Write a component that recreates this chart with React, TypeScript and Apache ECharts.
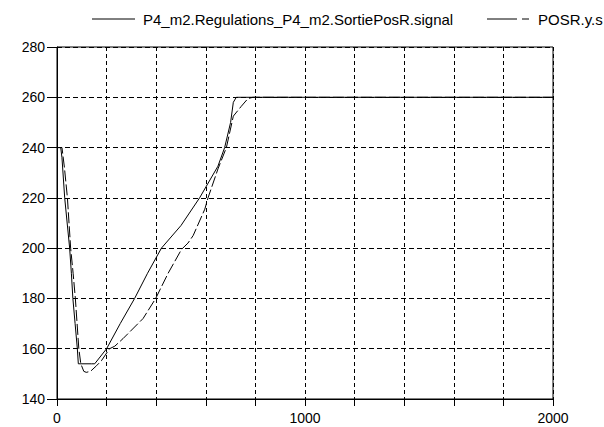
import React, { useEffect, useRef } from "react";
import * as echarts from "echarts";

const signalName = "P4_m2.Regulations_P4_m2.SortiePosR.signal";
const posName = "POSR.y.s";

const signalX = [0, 15, 20, 31, 41, 51, 58, 64, 73, 82, 86, 140, 152, 200, 255, 313, 365, 421, 500, 575, 649, 676, 700, 711, 723, 2000];
const signalY = [240, 240, 236, 220, 210, 200, 190, 180, 170, 160, 154, 154, 154, 160, 170, 180, 190, 200, 209, 220, 232.6, 240, 250, 258, 260, 260];

const posX = [0, 20, 30, 42, 55, 65, 74, 81, 88, 96, 108, 118, 135, 159, 179, 212, 233, 266, 347, 398, 448, 502, 528, 549, 596, 609, 649, 683, 711, 743, 770, 790, 2000];
const posY = [240, 240, 232, 220, 200, 190, 180, 170, 160, 154, 151, 150.6, 151, 153.2, 155.2, 160, 161, 164, 172, 180, 190, 199.5, 202, 205, 215.5, 220, 231.5, 240, 252.5, 256.4, 259.5, 260, 260];

const xTicks = [0, 1000, 2000];

const FONT = "Liberation Sans, Arial, sans-serif";
const LEG_Y = 19;

export default function App() {
  const ref = useRef<HTMLDivElement>(null);
  useEffect(() => {
    if (!ref.current) return;
    const chart = echarts.init(ref.current, null, { renderer: "svg" });
    chart.setOption({
      animation: false,
      backgroundColor: "#ffffff",
      graphic: [
        { type: "line", shape: { x1: 92, y1: LEG_Y, x2: 135, y2: LEG_Y }, style: { stroke: "#000", lineWidth: 1 } },
        {
          type: "text",
          x: 143,
          y: LEG_Y,
          style: { text: signalName, fill: "#000", font: `15px ${FONT}`, textVerticalAlign: "middle", verticalAlign: "middle" },
        },
        { type: "line", shape: { x1: 487, y1: LEG_Y, x2: 517, y2: LEG_Y }, style: { stroke: "#000", lineWidth: 1 } },
        { type: "line", shape: { x1: 522, y1: LEG_Y, x2: 529, y2: LEG_Y }, style: { stroke: "#000", lineWidth: 1 } },
        {
          type: "text",
          x: 538,
          y: LEG_Y,
          style: { text: posName, fill: "#000", font: `15px ${FONT}`, textVerticalAlign: "middle", verticalAlign: "middle" },
        },
      ],
      grid: {
        left: 57,
        right: 51,
        top: 47,
        bottom: 28,
        show: true,
        borderColor: "#000",
        borderWidth: 1,
        backgroundColor: "#fff",
      },
      xAxis: {
        type: "value",
        min: 0,
        max: 2000,
        interval: 200,
        axisLine: { lineStyle: { color: "#000", width: 1 } },
        axisTick: { show: true, length: 7, lineStyle: { color: "#000" } },
        axisLabel: {
          color: "#000",
          fontSize: 14,
          fontFamily: FONT,
          margin: 12,
          formatter: (v: number) => (xTicks.includes(v) ? String(v) : ""),
        },
        splitLine: { show: true, lineStyle: { color: "#000", type: [4, 3], width: 1 } },
      },
      yAxis: {
        type: "value",
        min: 140,
        max: 280,
        interval: 20,
        axisLine: { show: true, lineStyle: { color: "#000", width: 1 } },
        axisTick: { show: true, length: 10, lineStyle: { color: "#000" } },
        axisLabel: { color: "#000", fontSize: 14, fontFamily: FONT, margin: 12 },
        splitLine: { show: true, lineStyle: { color: "#000", type: [5, 3], width: 1 } },
      },
      series: [
        {
          name: signalName,
          type: "line",
          data: signalX.map((x, i) => [x, signalY[i]]),
          showSymbol: false,
          symbol: "none",
          lineStyle: { color: "#000", width: 1, type: "solid" },
          itemStyle: { color: "#000" },
        },
        {
          name: posName,
          type: "line",
          data: posX.map((x, i) => [x, posY[i]]),
          showSymbol: false,
          symbol: "none",
          lineStyle: { color: "#000", width: 1, type: [11, 3] },
          itemStyle: { color: "#000" },
        },
      ],
    });
    return () => chart.dispose();
  }, []);
  return <div ref={ref} style={{ width: 604, height: 427, position: "absolute", left: 0, top: 0 }} />;
}
